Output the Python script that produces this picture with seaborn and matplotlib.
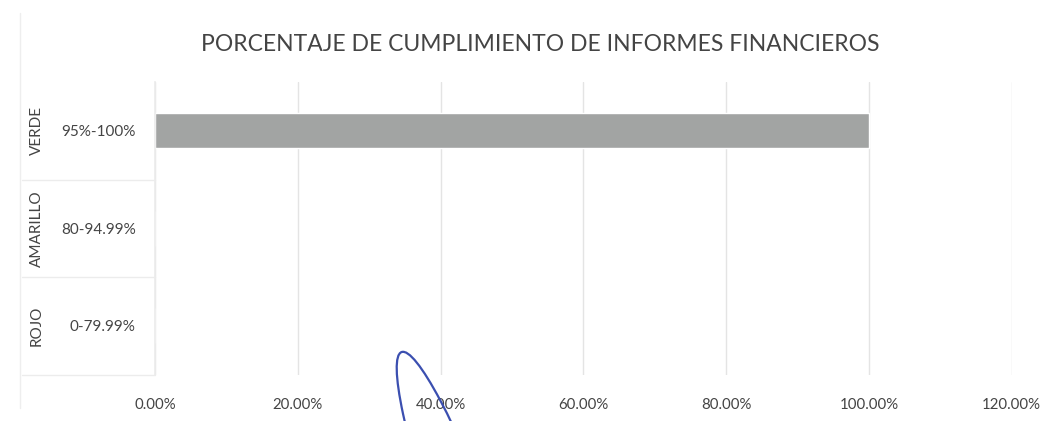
import matplotlib
matplotlib.use("Agg")
import matplotlib.pyplot as plt
import seaborn as sns
import pandas as pd
from matplotlib.ticker import FuncFormatter, MultipleLocator
from matplotlib.patches import Ellipse
from matplotlib.lines import Line2D

title = "PORCENTAJE DE CUMPLIMIENTO DE INFORMES FINANCIEROS"
groups = ["VERDE", "AMARILLO", "ROJO"]
ranges = ["95%-100%", "80-94.99%", "0-79.99%"]
values = [1.00, 0.0, 0.0]

df = pd.DataFrame({"range": ranges, "group": groups, "value": values})

sns.set_theme(style="white")
plt.rcParams["font.family"] = ["Lato", "DejaVu Sans"]

fig = plt.figure(figsize=(10.55, 4.21), dpi=100)
ax = fig.add_axes([0.147, 0.11, 0.812, 0.695])

sns.barplot(data=df, x="value", y="range", orient="h", color="#a2a4a3",
            width=0.36, ax=ax, saturation=1)

ax.set_xlim(0, 1.2)
ax.xaxis.set_major_locator(MultipleLocator(0.2))
ax.xaxis.set_major_formatter(FuncFormatter(lambda v, p: f"{v*100:.2f}%"))
ax.grid(axis="x", color="#e4e4e4", linewidth=1.0)
ax.set_axisbelow(True)
for s in ["top", "right", "bottom"]:
    ax.spines[s].set_visible(False)
ax.spines["left"].set_color("#ececec")
ax.set_xlabel("")
ax.set_ylabel("")
ax.tick_params(axis="x", length=0, pad=17, labelsize=10.8, labelcolor="#444444")
ax.tick_params(axis="y", length=0, pad=14, labelsize=11, labelcolor="#444444")

# outer group labels (rotated)
trans = ax.get_yaxis_transform()
for i, g in enumerate(groups):
    ax.text(-0.138, i, g, transform=trans, rotation=90, ha="center", va="center",
            fontsize=11, color="#444444", clip_on=False)
# separator lines between groups in label area
for yv in [0.5, 1.5, 2.5]:
    ax.add_line(Line2D([-0.155, 0], [yv, yv], transform=trans, color="#ececec",
                       linewidth=1, clip_on=False))

fig.text(0.512, 0.895, title, ha="center", va="center", fontsize=16.5, color="#444444")

# chart frame (faint)
fig.add_artist(Line2D([0.019, 0.019], [0.03, 0.97], transform=fig.transFigure,
                      color="#eeeeee", linewidth=1))

# handwritten pen mark from the scan (inches)
fig.add_artist(Ellipse((4.70, -1.19), 0.56, 4.0, angle=20,
                       transform=fig.dpi_scale_trans,
                       fill=False, edgecolor="#3b4fb0", linewidth=1.6))

fig.savefig("out.png", dpi=100)
